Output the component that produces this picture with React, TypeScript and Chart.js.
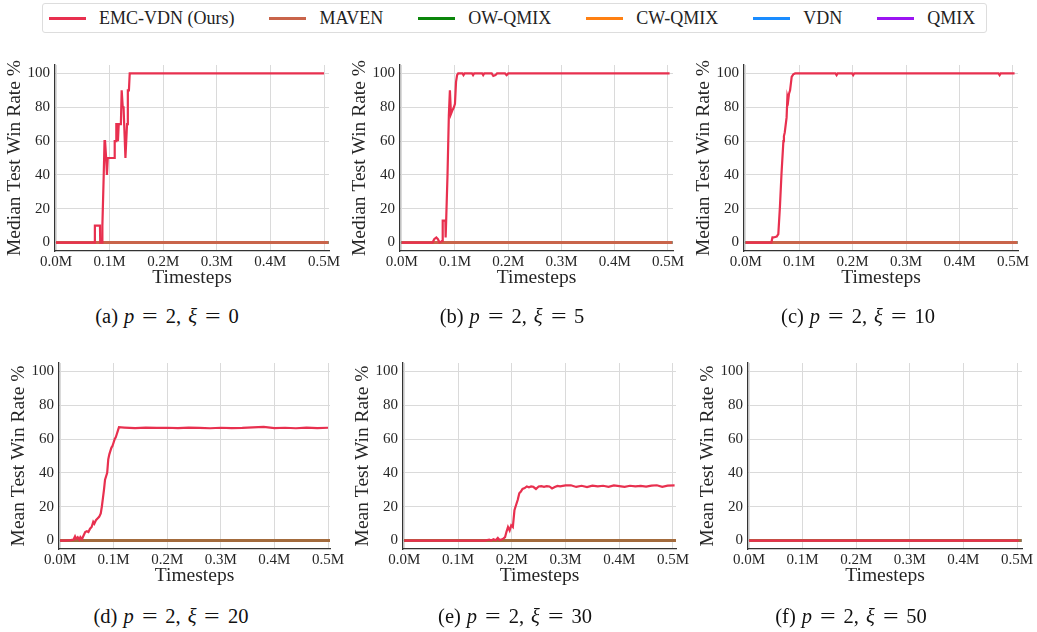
import React, { useEffect, useRef } from "react";
import { Chart, registerables } from "chart.js";

Chart.register(...registerables);

const SERIF = "'Liberation Serif', 'Times New Roman', Times, serif";

// ---------- data ----------
const SERIES_NAMES = ["EMC-VDN (Ours)", "MAVEN", "OW-QMIX", "CW-QMIX", "VDN", "QMIX"];
const SERIES_COLORS = ["#e8304f", "#c9644a", "#0b860b", "#ff8012", "#1a8cff", "#9b14f2"];
const X_TICKS = [0, 0.1, 0.2, 0.3, 0.4, 0.5]; // millions of timesteps
const Y_TICKS = [0, 20, 40, 60, 80, 100];

// Baselines (MAVEN, OW-QMIX, CW-QMIX, VDN, QMIX) stay at 0 in every panel
const BASELINE_X = [0, 0.508];
const BASELINE_Y = [0, 0];

// (a) p=2, xi=0  (median)
const A_X = [0, 0.072, 0.0725, 0.082, 0.0825, 0.086, 0.0865, 0.089, 0.0905, 0.0915, 0.0935, 0.095, 0.0965, 0.0975, 0.109, 0.1095, 0.112, 0.1125, 0.114, 0.1155, 0.117, 0.1175, 0.121, 0.1225, 0.1245, 0.126, 0.1295, 0.1305, 0.1325, 0.134, 0.136, 0.1375, 0.5];
const A_Y = [0, 0, 10, 10, 0, 0, 10, 40, 60, 60, 50, 40, 50, 50, 50, 60, 60, 70, 70, 60, 70, 70, 70, 90, 80, 80, 50, 50, 70, 90, 90, 100, 100];

// (b) p=2, xi=5  (median)
const B_X = [0, 0.058, 0.061, 0.065, 0.068, 0.071, 0.074, 0.076, 0.077, 0.082, 0.0825, 0.0835, 0.086, 0.0885, 0.0905, 0.0925, 0.095, 0.098, 0.1, 0.102, 0.104, 0.106, 0.114, 0.116, 0.118, 0.132, 0.134, 0.136, 0.151, 0.153, 0.155, 0.169, 0.172, 0.176, 0.179, 0.182, 0.194, 0.197, 0.2, 0.503];
const B_Y = [0, 0, 2, 3, 2, 0, 0.5, 1, 13, 13, 3, 13, 40, 75, 90, 76, 78, 80, 82, 95, 99, 100, 100, 99, 100, 100, 99, 100, 100, 99, 100, 100, 98.5, 99, 100, 100, 100, 99, 100, 100];

// (c) p=2, xi=10 (median)
const C_X = [0, 0.048, 0.05, 0.052, 0.058, 0.061, 0.064, 0.067, 0.0705, 0.0715, 0.073, 0.0765, 0.078, 0.0795, 0.081, 0.083, 0.086, 0.089, 0.0925, 0.168, 0.17, 0.172, 0.199, 0.201, 0.203, 0.473, 0.475, 0.477, 0.503];
const C_Y = [0, 0, 3, 3, 3.5, 5, 21, 41, 60, 63, 65, 74, 86, 84, 88, 90, 98, 99.5, 100, 100, 99, 100, 100, 99, 100, 100, 99, 100, 100];

// (d) p=2, xi=20 (mean)
const D_X = [0, 0.01, 0.02, 0.025, 0.028, 0.03, 0.033, 0.036, 0.038, 0.041, 0.044, 0.047, 0.05, 0.053, 0.056, 0.059, 0.062, 0.064, 0.067, 0.07, 0.073, 0.076, 0.078, 0.08, 0.082, 0.084, 0.086, 0.088, 0.09, 0.092, 0.094, 0.096, 0.098, 0.1, 0.102, 0.104, 0.106, 0.108, 0.11, 0.12, 0.14, 0.16, 0.18, 0.2, 0.22, 0.24, 0.26, 0.28, 0.3, 0.32, 0.34, 0.36, 0.38, 0.4, 0.42, 0.44, 0.46, 0.48, 0.5];
const D_Y = [0, 0, 0.3, 0.5, 2.5, 1, 2, 0.5, 2, 0.8, 3, 5, 5.5, 5, 7, 8, 11, 10, 12, 13, 14, 16, 20, 25, 30, 36, 38, 40, 48, 51, 53, 55, 56, 58, 60, 61, 63, 65, 67, 66.8, 66.5, 66.8, 66.6, 66.7, 66.5, 66.8, 66.6, 66.4, 66.7, 66.5, 66.6, 66.9, 67.2, 66.5, 66.7, 66.4, 66.8, 66.5, 66.7];

// (e) p=2, xi=30 (mean)
const E_X = [0, 0.05, 0.1, 0.15, 0.158, 0.162, 0.166, 0.17, 0.174, 0.177, 0.18, 0.184, 0.1875, 0.19, 0.193, 0.196, 0.199, 0.202, 0.205, 0.208, 0.211, 0.214, 0.217, 0.22, 0.224, 0.228, 0.232, 0.236, 0.24, 0.245, 0.25, 0.255, 0.26, 0.265, 0.27, 0.275, 0.28, 0.285, 0.29, 0.3, 0.31, 0.32, 0.33, 0.34, 0.35, 0.36, 0.37, 0.38, 0.39, 0.4, 0.41, 0.42, 0.43, 0.44, 0.45, 0.46, 0.47, 0.48, 0.49, 0.503];
const E_Y = [0, 0, 0, 0, 0.5, 0, 0.8, 0.2, 1.5, 0.3, 0.5, 1, 2, 5, 8, 6, 9, 8, 18, 21, 24, 28, 29, 30.5, 31, 32, 31.5, 32, 31.8, 30.5, 32, 32.2, 31.8, 32.2, 32, 30.8, 31.6, 32.3, 32, 32.6, 32.7, 31.7, 32.4, 31.6, 32.5, 32, 32.4, 31.8, 32.6, 32.2, 31.7, 32.4, 32, 32.3, 31.9, 32.5, 32.7, 31.8, 32.5, 32.6];

// (f) p=2, xi=50 (mean)
const F_X = [0, 0.503];
const F_Y = [0, 0];

const PANELS = [
  { letter: "a", xi: "0", yTitle: "Median Test Win Rate %", emcX: A_X, emcY: A_Y },
  { letter: "b", xi: "5", yTitle: "Median Test Win Rate %", emcX: B_X, emcY: B_Y },
  { letter: "c", xi: "10", yTitle: "Median Test Win Rate %", emcX: C_X, emcY: C_Y },
  { letter: "d", xi: "20", yTitle: "Mean Test Win Rate %", emcX: D_X, emcY: D_Y },
  { letter: "e", xi: "30", yTitle: "Mean Test Win Rate %", emcX: E_X, emcY: E_Y },
  { letter: "f", xi: "50", yTitle: "Mean Test Win Rate %", emcX: F_X, emcY: F_Y },
];

// ---------- layout ----------
const PLOT_H = 186;
const Y_AXIS_W = 55;
const X_AXIS_H = 40;
const PAD_TOP = 20;
const PAD_RIGHT = 22;
const LAYOUT = [
  { left: 55, top: 65, width: 274, xMin: -0.0019, xMax: 0.5093, capX: 167, capY: 317, mavenAlpha: 1 },
  { left: 400, top: 65, width: 273, xMin: -0.0032, xMax: 0.5094, capX: 512, capY: 317, mavenAlpha: 1 },
  { left: 744, top: 65, width: 274, xMin: -0.0032, xMax: 0.5094, capX: 858, capY: 317, mavenAlpha: 1 },
  { left: 59, top: 363, width: 271, xMin: -0.0019, xMax: 0.5037, capX: 171, capY: 617, mavenAlpha: 0.8 },
  { left: 403, top: 363, width: 273, xMin: -0.0024, xMax: 0.5056, capX: 515, capY: 617, mavenAlpha: 0.8 },
  { left: 748, top: 363, width: 274, xMin: -0.0019, xMax: 0.5093, capX: 851, capY: 617, mavenAlpha: 0.8 },
];

function withAlpha(hex: string, a: number) {
  const r = parseInt(hex.slice(1, 3), 16);
  const g = parseInt(hex.slice(3, 5), 16);
  const b = parseInt(hex.slice(5, 7), 16);
  return `rgba(${r},${g},${b},${a})`;
}

function Panel({ panel, box }: { panel: any; box: any }) {
  const ref = useRef<HTMLCanvasElement>(null);
  const cw = Y_AXIS_W + box.width + PAD_RIGHT;
  const ch = PAD_TOP + PLOT_H + X_AXIS_H;

  useEffect(() => {
    if (!ref.current) return;
    const datasets = SERIES_NAMES.map((name, i) => {
      const isEmc = i === 0;
      const xs: number[] = isEmc ? panel.emcX : BASELINE_X;
      const ys: number[] = isEmc ? panel.emcY : BASELINE_Y;
      const color = i === 1 ? withAlpha(SERIES_COLORS[i], box.mavenAlpha) : SERIES_COLORS[i];
      return {
        label: name,
        data: xs.map((x, k) => ({ x, y: ys[k] })),
        borderColor: color,
        backgroundColor: color,
        borderWidth: isEmc ? 2.2 : 3,
        pointRadius: 0,
        tension: 0,
        fill: false,
      };
    });
    const tickFont = { family: SERIF, size: 15 };
    const titleFont = { family: SERIF, size: 19.5 };
    const chart = new Chart(ref.current, {
      type: "line",
      data: { datasets },
      options: {
        animation: false,
        responsive: false,
        devicePixelRatio: 1,
        layout: { padding: { left: 0, right: PAD_RIGHT, top: PAD_TOP, bottom: 0 } },
        plugins: { legend: { display: false }, tooltip: { enabled: false } },
        scales: {
          x: {
            type: "linear",
            min: box.xMin,
            max: box.xMax,
            afterBuildTicks: (s: any) => {
              s.ticks = X_TICKS.map((v) => ({ value: v }));
            },
            afterFit: (s: any) => {
              s.height = X_AXIS_H;
            },
            ticks: {
              font: tickFont,
              color: "#262626",
              padding: 2,
              maxRotation: 0,
              autoSkip: false,
              callback: (v: any) => Number(v).toFixed(1) + "M",
            },
            grid: { color: "#dadada", lineWidth: 1, drawTicks: false },
            border: { display: true, color: "#333333", width: 1.3 },
            title: {
              display: true,
              text: "Timesteps",
              font: titleFont,
              color: "#262626",
              padding: { top: 0, bottom: 1.5 },
            },
          },
          y: {
            type: "linear",
            min: -5,
            max: 105,
            afterBuildTicks: (s: any) => {
              s.ticks = Y_TICKS.map((v) => ({ value: v }));
            },
            afterFit: (s: any) => {
              s.width = Y_AXIS_W;
            },
            ticks: { font: tickFont, color: "#262626", padding: 5, autoSkip: false },
            grid: { color: "#dadada", lineWidth: 1, drawTicks: false },
            border: { display: true, color: "#333333", width: 1.3 },
            title: {
              display: true,
              text: panel.yTitle,
              font: titleFont,
              color: "#262626",
              padding: { top: 3, bottom: 0 },
            },
          },
        },
      },
    } as any);
    return () => chart.destroy();
  }, []);

  return (
    <canvas
      ref={ref}
      width={cw}
      height={ch}
      style={{
        position: "absolute",
        left: box.left - Y_AXIS_W,
        top: box.top - PAD_TOP,
        width: cw,
        height: ch,
      }}
    />
  );
}

const eqStyle: React.CSSProperties = {
  display: "inline-block",
  transform: "scaleX(1.35)",
  margin: "0 10px",
};

function Caption({ letter, xi, cx, cy }: { letter: string; xi: string; cx: number; cy: number }) {
  return (
    <div
      style={{
        position: "absolute",
        left: cx - 120,
        width: 240,
        top: cy - 13,
        height: 24,
        lineHeight: "24px",
        textAlign: "center",
        fontFamily: SERIF,
        fontSize: 20.5,
        color: "#111",
        whiteSpace: "nowrap",
      }}
    >
      ({letter})
      <i style={{ marginLeft: 6 }}>p</i>
      <span style={eqStyle}>=</span>
      2,
      <i style={{ marginLeft: 7 }}>ξ</i>
      <span style={eqStyle}>=</span>
      {xi}
    </div>
  );
}

function Legend() {
  return (
    <div
      style={{
        position: "absolute",
        left: 42,
        top: 3,
        width: 945,
        height: 30,
        boxSizing: "border-box",
        border: "1px solid #dddddd",
        borderRadius: 3,
        display: "flex",
        alignItems: "center",
        paddingLeft: 6,
        fontFamily: SERIF,
        fontSize: 18,
        color: "#222",
        background: "#fff",
      }}
    >
      {SERIES_NAMES.map((name, i) => (
        <div key={name} style={{ display: "flex", alignItems: "center", marginRight: 35 }}>
          <div style={{ width: 37, height: 3, background: SERIES_COLORS[i], marginRight: 13 }} />
          <span style={{ whiteSpace: "nowrap" }}>{name}</span>
        </div>
      ))}
    </div>
  );
}

export default function App() {
  return (
    <div
      style={{
        position: "absolute",
        left: 0,
        top: 0,
        width: 1037,
        height: 632,
        background: "#ffffff",
        overflow: "hidden",
      }}
    >
      <Legend />
      {PANELS.map((p, i) => (
        <Panel key={p.letter} panel={p} box={LAYOUT[i]} />
      ))}
      {PANELS.map((p, i) => (
        <Caption key={"c" + p.letter} letter={p.letter} xi={p.xi} cx={LAYOUT[i].capX} cy={LAYOUT[i].capY} />
      ))}
    </div>
  );
}
